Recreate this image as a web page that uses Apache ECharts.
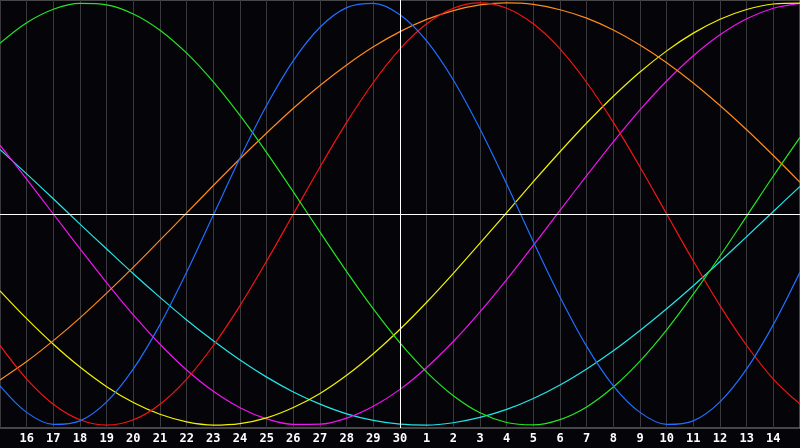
<!DOCTYPE html>
<html><head><meta charset="utf-8">
<script src="https://cdn.jsdelivr.net/npm/echarts@6/dist/echarts.min.js"></script>
<style>html,body{margin:0;padding:0;background:#050409;}#c{width:800px;height:448px;}</style>
</head><body><div id="c"></div>
<script>
// Tick labels (index 0 and 30 are the hidden boundary days)
const dayLabels = ['15','16','17','18','19','20','21','22','23','24','25','26','27','28','29','30',
  '1','2','3','4','5','6','7','8','9','10','11','12','13','14','15'];
const todayIndex = 15;

// Values at each day gridline (k = 0..30)
const intellectual = [0.809,0.906,0.970,0.998,0.991,0.948,0.871,0.762,0.626,0.467,0.291,0.105,-0.086,-0.273,-0.450,-0.611,-0.749,-0.861,-0.942,-0.988,-0.999,-0.974,-0.914,-0.820,-0.697,-0.549,-0.380,-0.199,-0.010,0.180,0.363];
const physical = [-0.814,-0.940,-0.997,-0.980,-0.890,-0.734,-0.524,-0.275,-0.005,0.265,0.515,0.727,0.885,0.978,0.998,0.944,0.820,0.635,0.403,0.142,-0.131,-0.393,-0.627,-0.814,-0.940,-0.997,-0.980,-0.890,-0.734,-0.524,-0.275];
const emotional = [-0.623,-0.782,-0.901,-0.975,-1.000,-0.975,-0.901,-0.782,-0.623,-0.434,-0.223,0.000,0.223,0.434,0.623,0.782,0.901,0.975,1.000,0.975,0.901,0.782,0.623,0.434,0.223,0.000,-0.223,-0.434,-0.623,-0.782,-0.901];
const awareness = [-0.786,-0.699,-0.600,-0.492,-0.375,-0.252,-0.124,0.005,0.135,0.262,0.384,0.501,0.609,0.706,0.792,0.864,0.922,0.964,0.991,1.000,0.993,0.968,0.928,0.872,0.801,0.717,0.621,0.514,0.399,0.277,0.150];
const aesthetic = [-0.364,-0.496,-0.617,-0.725,-0.818,-0.893,-0.949,-0.985,-1.000,-0.993,-0.966,-0.917,-0.850,-0.764,-0.662,-0.546,-0.418,-0.281,-0.138,0.007,0.153,0.295,0.431,0.558,0.673,0.773,0.857,0.923,0.969,0.995,0.999];
const intuitive = [0.326,0.165,0.000,-0.165,-0.326,-0.478,-0.617,-0.739,-0.840,-0.918,-0.971,-0.997,-0.996,-0.967,-0.911,-0.831,-0.727,-0.604,-0.464,-0.311,-0.149,0.017,0.182,0.342,0.493,0.630,0.750,0.849,0.925,0.975,0.998];
const spiritual = [0.306,0.190,0.072,-0.048,-0.166,-0.283,-0.395,-0.502,-0.601,-0.692,-0.773,-0.843,-0.901,-0.947,-0.978,-0.996,-1.000,-0.989,-0.964,-0.926,-0.874,-0.810,-0.734,-0.648,-0.552,-0.449,-0.340,-0.225,-0.107,0.012,0.131];

const seriesList = [
  {name:'spiritual', data:spiritual, color:'#22e6e6'},
  {name:'intuitive', data:intuitive, color:'#f014f0'},
  {name:'aesthetic', data:aesthetic, color:'#f2f200'},
  {name:'awareness', data:awareness, color:'#ff8a1c'},
  {name:'emotional', data:emotional, color:'#f41414'},
  {name:'intellectual', data:intellectual, color:'#22e622'},
  {name:'physical', data:physical, color:'#1f6fff'}
];

const chart = echarts.init(document.getElementById('c'), null, {renderer:'canvas'});
const series = seriesList.map((s) => ({
  name: s.name,
  type: 'line',
  smooth: 0.33,
  symbol: 'none',
  data: s.data.map((v, i) => [i, v]),
  lineStyle: {color: s.color, width: 1.2},
  itemStyle: {color: s.color},
  z: 3,
  animation: false
}));
series[0].markLine = {
  silent: true,
  symbol: ['none','none'],
  label: {show:false},
  animation: false,
  lineStyle: {color:'#ffffff', width:1, type:'solid'},
  data: [{xAxis: todayIndex}, {yAxis: 0}]
};
chart.setOption({
  backgroundColor: '#050409',
  animation: false,
  grid: {left:0, right:0, top:0, bottom:20, show:true, borderColor:'#8a8a8a', borderWidth:1, backgroundColor:'transparent'},
  xAxis: {
    type:'value', min:0, max:30, interval:1,
    axisLine:{show:true, lineStyle:{color:'#a8a8a8', width:1}},
    axisTick:{show:false},
    splitLine:{show:true, lineStyle:{color:'#3a3a3e', width:1}},
    axisLabel:{
      show:true, showMinLabel:false, showMaxLabel:false, margin:5,
      color:'#ffffff', fontWeight:'bold', fontSize:12, fontFamily:'DejaVu Sans Mono',
      formatter: v => dayLabels[v]
    }
  },
  yAxis: {type:'value', min:-1.014, max:1.014, show:false, splitLine:{show:false}},
  series: series
});
</script></body></html>
